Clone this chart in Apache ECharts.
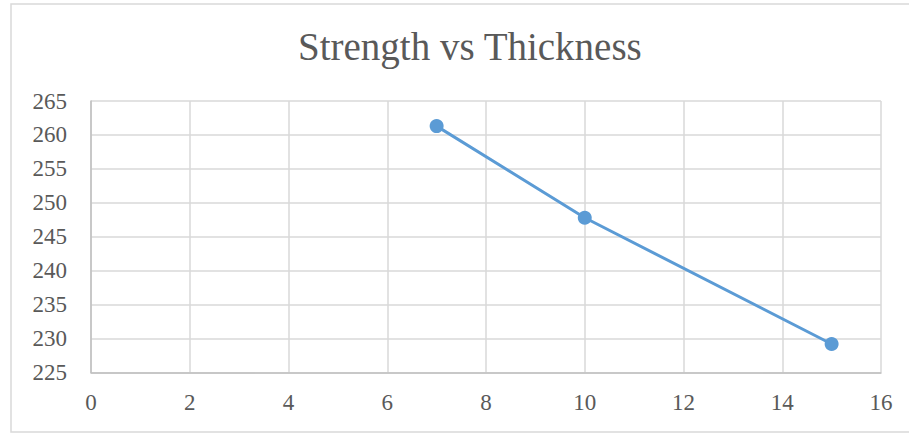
<!DOCTYPE html>
<html>
<head>
<meta charset="utf-8">
<script src="https://cdn.jsdelivr.net/npm/echarts@6/dist/echarts.min.js"></script>
<style>
html,body{margin:0;padding:0;background:#fff;}
#chart{width:909px;height:433px;}
</style>
</head>
<body>
<div id="chart"></div>
<script>
const titleText = "Strength vs Thickness";
const thickness = [7, 10, 15];
const strength = [261.3, 247.8, 229.2];
const xTicks = {min: 0, max: 16, interval: 2};
const yTicks = {min: 225, max: 265, interval: 5};

const FONT = "Liberation Serif";
const chart = echarts.init(document.getElementById('chart'), null, {renderer: 'svg'});
chart.setOption({
  animation: false,
  backgroundColor: '#ffffff',
  graphic: [{
    type: 'rect',
    shape: {x: 11, y: 4, width: 905, height: 428},
    style: {fill: 'none', stroke: '#d9d9d9', lineWidth: 1.5},
    silent: true, z: -1
  }],
  title: {
    text: titleText,
    left: 293,
    top: 22,
    textStyle: {fontFamily: FONT, fontSize: 39, fontWeight: 'normal', color: '#595959'}
  },
  grid: {left: 91, right: 28, top: 101, bottom: 60.5, containLabel: false},
  xAxis: {
    type: 'value',
    min: xTicks.min, max: xTicks.max, interval: xTicks.interval,
    axisLine: {show: true, lineStyle: {color: '#bfbfbf', width: 1.5}},
    axisTick: {show: false},
    splitLine: {show: true, lineStyle: {color: '#d9d9d9', width: 1.5}},
    axisLabel: {fontFamily: FONT, fontSize: 23, color: '#595959', margin: 18}
  },
  yAxis: {
    type: 'value',
    min: yTicks.min, max: yTicks.max, interval: yTicks.interval,
    axisLine: {show: true, lineStyle: {color: '#bfbfbf', width: 1.5}},
    axisTick: {show: false},
    splitLine: {show: true, lineStyle: {color: '#d9d9d9', width: 1.5}},
    axisLabel: {fontFamily: FONT, fontSize: 23, color: '#595959', margin: 24}
  },
  series: [{
    type: 'line',
    data: thickness.map((t, i) => [t, strength[i]]),
    symbol: 'circle',
    symbolSize: 14,
    lineStyle: {color: '#5b9bd5', width: 3},
    itemStyle: {color: '#5b9bd5'}
  }]
});
</script>
</body>
</html>
